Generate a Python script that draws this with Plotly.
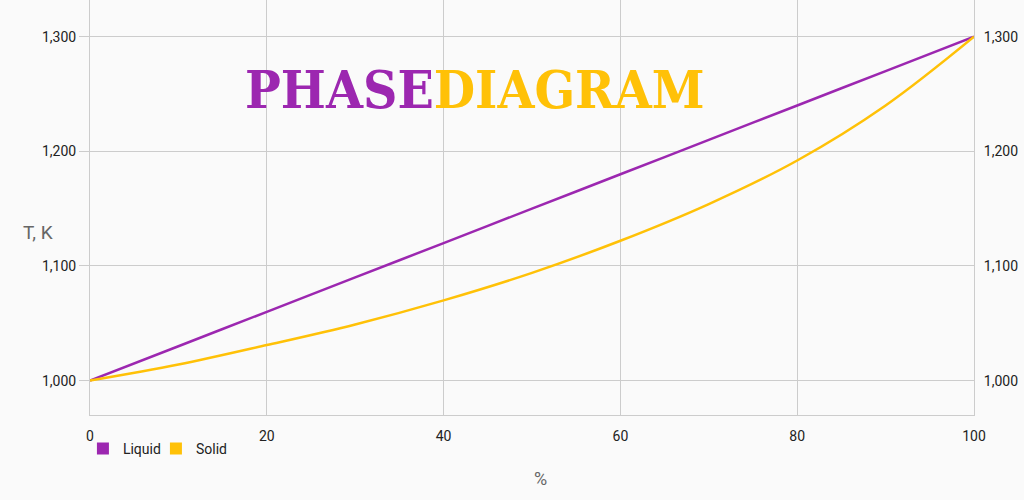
import plotly.graph_objects as go

x_pct = [0, 10, 20, 30, 40, 50, 60, 70, 80, 90, 100]
liquid = [1000, 1030, 1060, 1090, 1120, 1150, 1180, 1210, 1240, 1270, 1300]
solid = [1000, 1014, 1031, 1049, 1070, 1094, 1122, 1154, 1192, 1240, 1300]
x_ticks = [0, 20, 40, 60, 80, 100]
y_ticks = [1000, 1100, 1200, 1300]

PURPLE = "#9C27B0"
GOLD = "#FFC107"
FONT = "Roboto"

fig = go.Figure()
fig.add_trace(go.Scatter(x=x_pct, y=liquid, mode="lines", name="Liquid",
                         line=dict(color=PURPLE, width=2.5, shape="spline"), showlegend=False))
fig.add_trace(go.Scatter(x=x_pct, y=solid, mode="lines", name="Solid",
                         line=dict(color=GOLD, width=2.5, shape="spline"), showlegend=False))
# legend entries with square swatches
fig.add_trace(go.Scatter(x=[None], y=[None], mode="markers", name="Liquid",
                         marker=dict(symbol="square", color=PURPLE, size=12)))
fig.add_trace(go.Scatter(x=[None], y=[None], mode="markers", name="Solid",
                         marker=dict(symbol="square", color=GOLD, size=12)))
# right axis mirror
fig.add_trace(go.Scatter(x=[None], y=[None], yaxis="y2", showlegend=False))

yr = [970, 1332]
fig.update_layout(
    width=1024, height=500,
    margin=dict(l=90, r=50, t=0, b=85, autoexpand=False),
    paper_bgcolor="#fafafa", plot_bgcolor="#fafafa",
    font=dict(family=FONT, size=14, color="#222"),
    xaxis=dict(range=[0, 100], tickvals=x_ticks, showgrid=True, gridcolor="#cccccc",
               gridwidth=1, zeroline=False, showline=True, linecolor="#cccccc",
               ticks="outside", ticklen=8, tickcolor="rgba(0,0,0,0)",
               tickfont=dict(size=14, color="#222")),
    yaxis=dict(range=yr, tickvals=y_ticks, tickformat=",d", showgrid=True, gridcolor="#cccccc",
               zeroline=False, showline=True, linecolor="#cccccc", ticks="outside",
               ticklen=10, tickcolor="#cccccc", tickfont=dict(size=14, color="#222")),
    yaxis2=dict(range=yr, tickvals=y_ticks, tickformat=",d", overlaying="y", side="right",
                showgrid=False, zeroline=False, showline=True, linecolor="#cccccc",
                ticks="outside", ticklen=6, tickcolor="rgba(0,0,0,0)",
                tickfont=dict(size=14, color="#222")),
    legend=dict(orientation="h", x=-0.008, xanchor="left", y=-0.043, yanchor="top",
                font=dict(size=14, color="#222"), itemwidth=30, bgcolor="rgba(0,0,0,0)",
                tracegroupgap=0, entrywidth=28),
    showlegend=True,
)
fig.add_annotation(xref="paper", yref="paper", x=-0.059, y=0.44, xanchor="center",
                   yanchor="middle", text="T, K", showarrow=False,
                   font=dict(size=19, color="#666", family=FONT))
fig.add_annotation(xref="paper", yref="paper", x=(540 - 90) / 884, y=-(478 - 415) / 415,
                   xanchor="center", yanchor="middle", text="%", showarrow=False,
                   font=dict(size=18, color="#666", family=FONT))
fig.add_annotation(xref="paper", yref="paper", x=0.4355, y=0.786, xanchor="center", yanchor="middle",
                   showarrow=False,
                   text=f"<b><span style='color:{PURPLE}'>PHASE</span><span style='color:{GOLD}'>DIAGRAM</span></b>",
                   font=dict(size=53, family="DejaVu Serif Condensed, DejaVu Serif"))
fig.write_html("out.html", config={"displayModeBar": False},
               post_script="document.body.style.margin='0';document.body.style.overflow='hidden';")
